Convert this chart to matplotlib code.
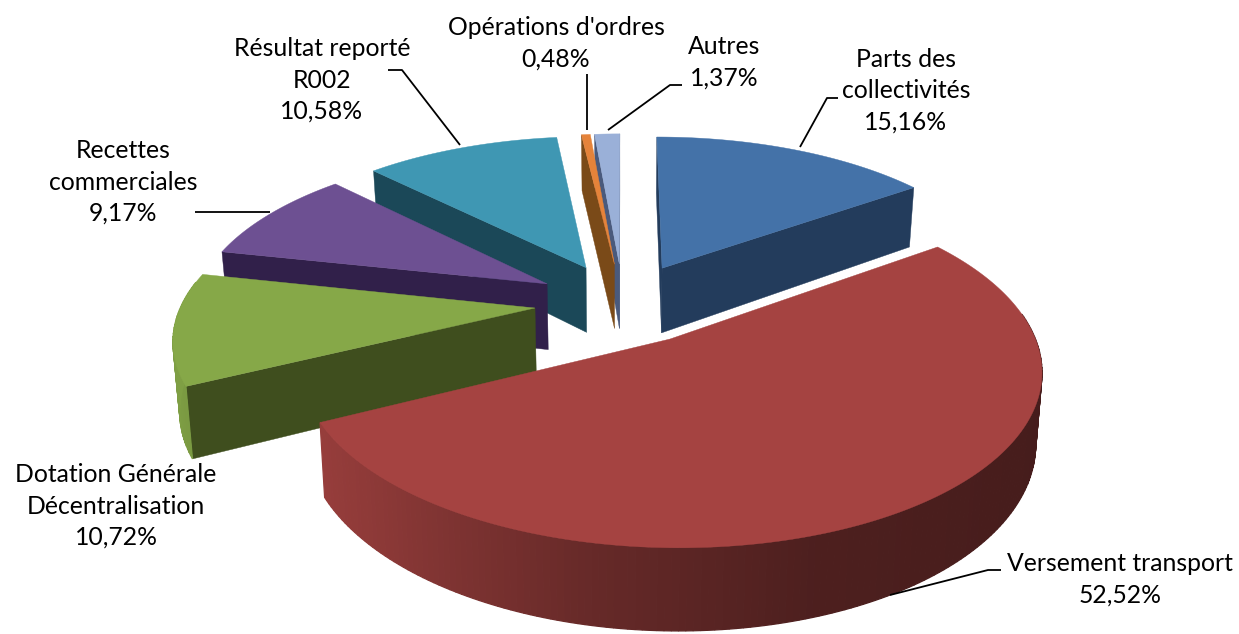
import numpy as np
import matplotlib
matplotlib.use("Agg")
import matplotlib.pyplot as plt
from matplotlib.colors import to_rgb

plt.rcParams["font.family"] = ["Lato", "DejaVu Sans"]

# data, clockwise from the top
names = ["Parts des\ncollectivités", "Versement transport", "Dotation Générale\nDécentralisation",
         "Recettes\ncommerciales", "Résultat reporté\nR002", "Opérations d'ordres", "Autres"]
shares = [15.16, 52.52, 10.72, 9.17, 10.58, 0.48, 1.37]

top_colors = ["#4472A8", "#A54341", "#86A848", "#6D5092", "#3F97B3", "#E5833A", "#9AB0D8"]
cut_colors = ["#233C5C", "#5A2220", "#3F4E1E", "#31204A", "#1B4858", "#7A4A18", "#4A5A7C"]

# label centres and leader lines, in pixels
label_pos = [(906, 91), (1120, 579), (116, 506), (123, 182), (322, 80), (556, 43), (724, 62)]
leaders = [[(800, 147), (827, 98), (838, 98)],
           [(890, 595), (988, 570), (1001, 570)],
           [(195, 212), (270, 212)],
           [(388, 70), (402, 70), (460, 145)],
           [(587, 74), (587, 130)],
           [(682, 85), (670, 85), (608, 130)]]

# projection of the pie plane
cx, cy = 623, 303
radius = 353
squash = 0.46
persp = 0.16
explode = 0.25
depth = 67
converge = 0.985


def project(u, v, low=False):
    w = 1 + persp * v
    x = radius * u / w
    y = -radius * squash * v / w
    if low:
        return cx + x * converge, cy + y + depth / w
    return cx + x, cy + y


def shade(color, f):
    return tuple(min(1, c * f) for c in to_rgb(color))


fig = plt.figure(figsize=(12.39, 6.34), dpi=100)
ax = fig.add_axes([0, 0, 1, 1])
ax.set_xlim(0, 1239)
ax.set_ylim(634, 0)
ax.axis("off")

edges = np.concatenate([[0], np.cumsum(shares)]) / 100 * 2 * np.pi
draw_order = [6, 5, 4, 3, 0, 2, 1]

for i in draw_order:
    a0, a1 = edges[i], edges[i + 1]
    mid = (a0 + a1) / 2
    u0, v0 = explode * np.sin(mid), explode * np.cos(mid)
    ang = np.linspace(a0, a1, max(int((a1 - a0) * 60), 4))
    us = u0 + np.sin(ang)
    vs = v0 + np.cos(ang)

    # the two cut faces, only when turned towards the viewer
    for a, normal in ((a0, a0 - np.pi / 2), (a1, a1 + np.pi / 2)):
        if np.cos(normal) < 0.01:
            u1, v1 = u0 + np.sin(a), v0 + np.cos(a)
            quad = [project(u0, v0), project(u1, v1), project(u1, v1, True), project(u0, v0, True)]
            ax.fill(*zip(*quad), color=cut_colors[i], lw=0.3, zorder=2)

    # outer wall, shaded from light on the left to dark on the right
    for k in range(len(ang) - 1):
        quad = [project(us[k], vs[k]), project(us[k + 1], vs[k + 1]),
                project(us[k + 1], vs[k + 1], True), project(us[k], vs[k], True)]
        if np.cos(ang[k]) < 0.15:
            s = np.sin((ang[k] + ang[k + 1]) / 2)
            f = np.interp(s, [-1, -0.75, -0.2, 0.3, 1], [0.95, 0.86, 0.62, 0.47, 0.42])
            ax.fill(*zip(*quad), color=shade(top_colors[i], f), lw=0.9, zorder=2)

    # top face
    px, py = project(np.r_[u0, us], np.r_[v0, vs])
    ax.fill(px, py, color=top_colors[i], lw=0.3, zorder=2)

for line in leaders:
    ax.plot(*zip(*line), color="black", lw=1.3, zorder=3, solid_capstyle="butt")

for name, share, (lx, ly) in zip(names, shares, label_pos):
    value = f"{share:.2f}".replace(".", ",") + "%"
    ax.text(lx, ly, f"{name}\n{value}", ha="center", va="center", fontsize=17.8,
            color="black", linespacing=1.44, zorder=4)

fig.savefig("out.png", dpi=100, facecolor="white")
plt.close(fig)
